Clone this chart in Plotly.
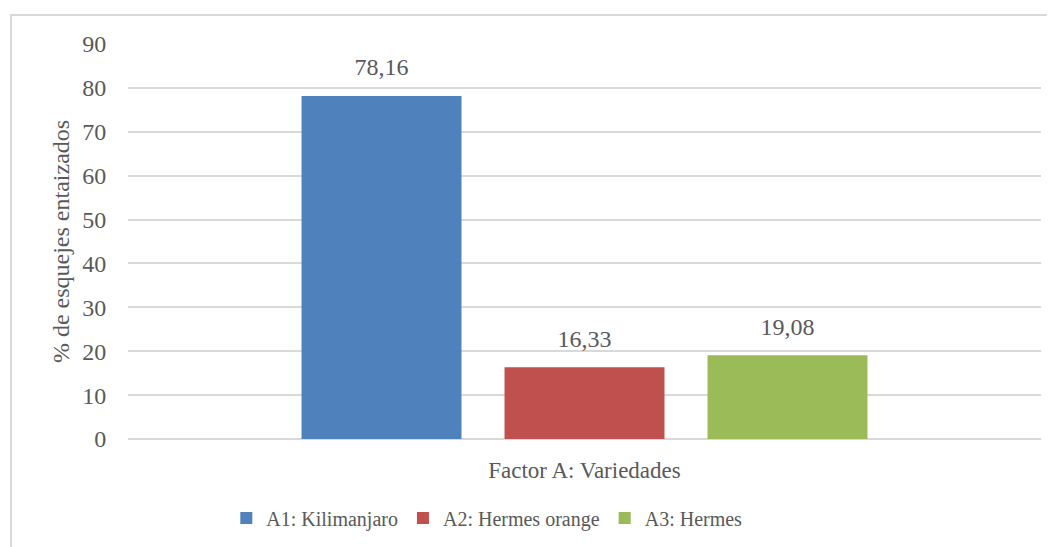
import plotly.graph_objects as go

categoria = ["Factor A: Variedades"]
variedades = ["A1: Kilimanjaro", "A2: Hermes orange", "A3: Hermes"]
valores = [78.16, 16.33, 19.08]
colores = ["#4F81BD", "#C0504D", "#9BBB59"]

fuente = "Liberation Serif"
gris = "#595959"

fig = go.Figure()
for nombre, val, col in zip(variedades, valores, colores):
    fig.add_trace(go.Bar(x=categoria, y=[val], name=nombre, marker_color=col,
                         marker_line_width=0, hoverinfo="y"))
# etiquetas de datos encima de cada barra (alineadas con scattermode group)
for nombre, val in zip(variedades, valores):
    fig.add_trace(go.Scatter(x=categoria, y=[val], mode="markers+text", showlegend=False,
                             text=[f"{val:.2f}".replace(".", ",")], textposition="top center",
                             marker=dict(size=22, opacity=0), cliponaxis=False,
                             textfont=dict(size=24, color=gris, family=fuente),
                             hoverinfo="skip"))

# la pagina tiene 8px de margen en el body: se compensa aqui
# area de trazado en pantalla: x 128..1041, y 44..439
off = 8
L, T = 128 - off, 44 - off
W, H = 1055, 547
R, B = W - (1041 - off), H - (439 - off)
pw, ph = W - L - R, H - T - B

fig.add_shape(type="rect", xref="paper", yref="paper",
              x0=(11 - off - L) / pw, x1=(W + 20 - L) / pw,
              y0=-(H + 20 - T - ph) / ph, y1=(ph + T - (15 - off)) / ph,
              line=dict(color="#d9d9d9", width=2), fillcolor="rgba(0,0,0,0)", layer="below")

fig.update_layout(
    width=W, height=H,
    margin=dict(l=L, r=R, t=T, b=B),
    paper_bgcolor="white", plot_bgcolor="white",
    separators=",.",
    barmode="group", bargap=0.333, bargroupgap=0.212,
    scattermode="group", scattergap=0.333,
    font=dict(family=fuente, color=gris, size=24),
    showlegend=True,
    legend=dict(orientation="h", x=0.393, xanchor="center", y=-0.2, yanchor="middle",
                font=dict(size=20, color=gris, family=fuente), itemwidth=30),
    xaxis=dict(type="category", showgrid=False, showline=False, zeroline=False,
               ticks="outside", ticklen=10, tickcolor="rgba(0,0,0,0)",
               tickfont=dict(size=23, color=gris, family=fuente)),
    yaxis=dict(range=[0, 90], dtick=10, showgrid=True, gridcolor="#d9d9d9", gridwidth=1.5,
               zeroline=True, zerolinecolor="#d9d9d9", zerolinewidth=1.5,
               showline=False, ticks="outside", ticklen=16, tickcolor="rgba(0,0,0,0)",
               tickfont=dict(size=24, color=gris, family=fuente),
               title=dict(text="% de esquejes entaizados", standoff=5,
                          font=dict(size=24, color=gris, family=fuente))),
)

fig.write_html("out.html")
